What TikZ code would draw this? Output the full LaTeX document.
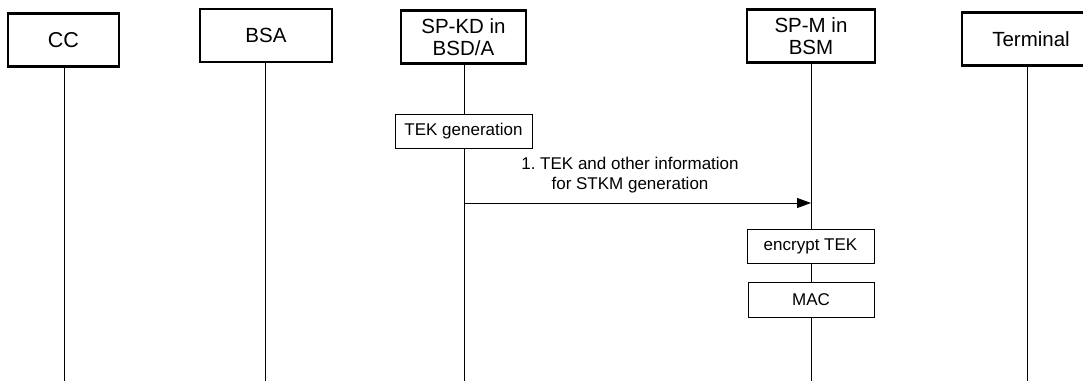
\documentclass[tikz,border=0pt]{standalone}
\usepackage{fontspec}
\setmainfont{Liberation Sans}
\usetikzlibrary{arrows.meta}
\frenchspacing
\begin{document}
\begin{tikzpicture}[x=1pt,y=-1pt,
  head/.style={draw, line width=2.6pt, minimum height=53pt, inner sep=0pt, font=\fontsize{20.5}{22.5}\selectfont, align=center},
  act/.style={draw, line width=0.8pt, inner sep=0pt, font=\fontsize{17}{19}\selectfont},
  life/.style={line width=0.9pt},
  msg/.style={line width=0.9pt, -{Triangle[length=14pt,width=10pt]}},
  lbl/.style={font=\fontsize{17}{20}\selectfont, align=center}]
\useasboundingbox (0,0) rectangle (1083,381);
% headers
\node[head, minimum width=111pt, font=\fontsize{21.5}{23}\selectfont] (cc) at (63.5,40) {CC};
\node[head, minimum width=132pt] (bsa) at (266,35.5) {BSA};
\node[head, minimum width=125pt] (kd) at (463.5,37) {SP-KD in\\BSD/A};
\node[head, minimum width=128pt] (spm) at (811,36) {SP-M in\\BSM};
\node[head, minimum width=138pt] (term) at (1031,39) {Terminal};
% lifeline ends
\coordinate (ccE) at (64,381);
\coordinate (bsaE) at (265,381);
\coordinate (kdE) at (464,381);
\coordinate (spmE) at (811,381);
\coordinate (termE) at (1027,381);
\draw[life] (cc.south -| ccE) -- (ccE);
\draw[life] (bsa.south -| bsaE) -- (bsaE);
\draw[life] (kd.south -| kdE) -- (kdE);
\draw[life] (spm.south -| spmE) -- (spmE);
\draw[life] (term.south -| termE) -- (termE);
% action boxes
\node[act, fill=white, minimum width=137pt, minimum height=34pt] (tek) at (463.5,131) {TEK generation};
\node[act, fill=white, minimum width=127pt, minimum height=34pt] (enc) at (810.5,246) {encrypt TEK};
\node[act, fill=white, minimum width=126pt, minimum height=35pt] (mac) at (811,299.5) {MAC};
% message
\coordinate (mS) at (464,203);
\coordinate (mE) at (811,203);
\draw[msg] (mS) -- (mE);
\node[lbl] (ml) at (630,175) {1. TEK and other information\\for STKM generation};
\end{tikzpicture}
\end{document}
